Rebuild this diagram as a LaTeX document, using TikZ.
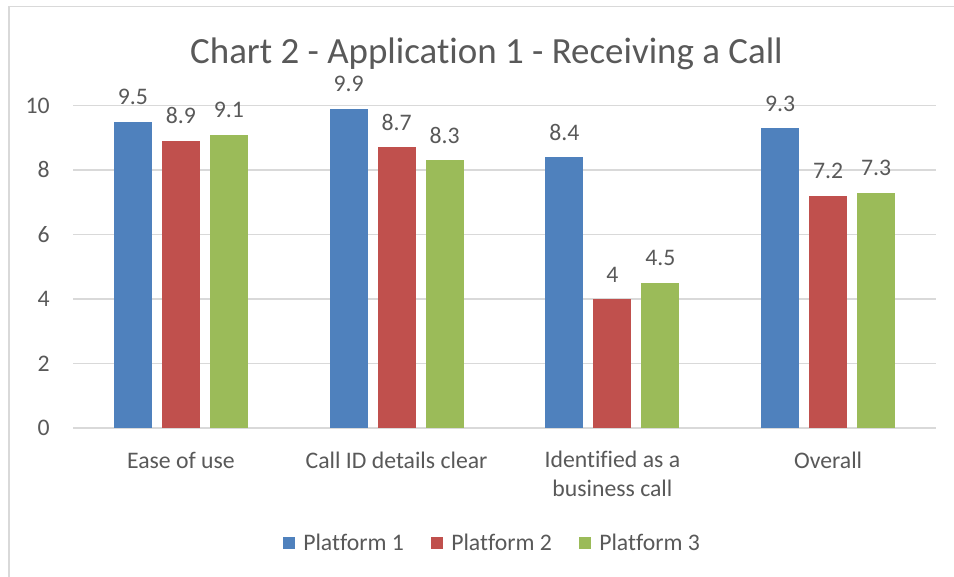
\documentclass[tikz,border=0pt]{standalone}
\usepackage{fontspec}
\setmainfont{Carlito}[Ligatures=NoCommon]
\usetikzlibrary{positioning}

\definecolor{pfone}{HTML}{4F81BD}
\definecolor{pftwo}{HTML}{C0504D}
\definecolor{pfthree}{HTML}{9BBB59}
\definecolor{txtgray}{HTML}{595959}
\definecolor{gridgray}{HTML}{D9D9D9}

\begin{document}
\begin{tikzpicture}[
    x=0.75pt, y=-0.75pt,
    every node/.style={font=\fontsize{17.8}{21.4}\selectfont, text=txtgray, inner sep=0pt},
    gridline/.style={draw=gridgray, line width=1.1pt},
    vallabel/.style={anchor=base},
    ticklabel/.style={anchor=base east},
    catlabel/.style={anchor=base, align=center}
]
\useasboundingbox (0,0) rectangle (954,576);
\fill[white] (0,0) rectangle (954,576);

% chart frame, runs off the page right and bottom
\draw[gridline] (9,600) -- (9,6.5) -- (970,6.5);

\node[font=\fontsize{27.7}{33}\selectfont, anchor=base] (title) at (486.5,63) {Chart 2 - Application 1 - Receiving a Call};

% value axis
\foreach \v in {0,2,...,10} {
    \draw[gridline] (73,{428-32.25*\v}) -- (936,{428-32.25*\v});
    \node[ticklabel] (tick\v) at (50,{428-32.25*\v+7.5}) {\v};
}

% bars with their values
\foreach \cat/\a/\b/\c in {1/9.5/8.9/9.1, 2/9.9/8.7/8.3, 3/8.4/4/4.5, 4/9.3/7.2/7.3} {
    \pgfmathsetmacro{\catx}{73+(\cat-0.5)*215.75}
    \foreach \s/\v/\col in {1/\a/pfone, 2/\b/pftwo, 3/\c/pfthree} {
        \pgfmathsetmacro{\bx}{\catx+(\s-2)*48}
        \pgfmathsetmacro{\by}{428-32.25*\v}
        \fill[\col] (\bx-19,428) rectangle (\bx+19,\by);
        \node[vallabel] (val\cat-\s) at (\bx,\by-17) {\v};
    }
}

% categories (base of a two-line node is its last line)
\node[catlabel] (cat1) at (180.9,468) {Ease of use};
\node[catlabel] (cat2) at (396.6,468) {Call ID details clear};
\node[catlabel] (cat3) at (612.4,496.5) {Identified as a\\business call};
\node[catlabel] (cat4) at (828.1,468) {Overall};

% legend
\foreach \s/\col/\sx in {1/pfone/283, 2/pftwo/431, 3/pfthree/579} {
    \fill[\col] (\sx,537) rectangle ++(12,12);
    \node[anchor=base west] (leg\s) at (\sx+20,550) {Platform \s};
}
\end{tikzpicture}
\end{document}
